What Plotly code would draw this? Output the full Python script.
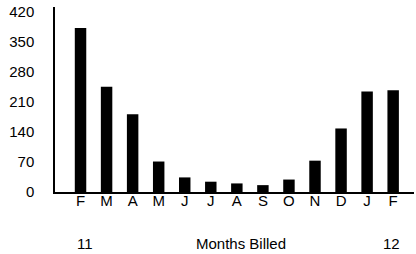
import plotly.graph_objects as go

months = ["F", "M", "A", "M", "J", "J", "A", "S", "O", "N", "D", "J", "F"]
kwh_billed = [382, 245, 181, 71, 34, 24, 20, 16, 29, 73, 148, 234, 237]
y_ticks = [0, 70, 140, 210, 280, 350, 420]
start_year_label = "11"
end_year_label = "12"
x_title = "Months Billed"

x_pos = list(range(len(months)))

FONT = "Liberation Sans, Arial, sans-serif"
FS = 15

fig = go.Figure(
    go.Bar(
        x=x_pos,
        y=kwh_billed,
        marker=dict(color="#000000", line=dict(width=0)),
        hoverinfo="skip",
    )
)

fig.update_layout(
    width=416,
    height=254,
    margin=dict(l=55, r=2, t=7, b=62),
    paper_bgcolor="white",
    plot_bgcolor="white",
    showlegend=False,
    bargap=0.56,
    font=dict(family=FONT, size=FS, color="#000000"),
)

fig.update_xaxes(
    range=[-0.98, len(months) - 0.2],
    tickvals=x_pos,
    ticktext=months,
    showgrid=False,
    zeroline=False,
    showline=True,
    linecolor="#000000",
    linewidth=2,
    ticks="",
    ticklabelstandoff=-6,
    tickfont=dict(family=FONT, size=FS, color="#000000"),
)

fig.update_yaxes(
    range=[0, 431],
    tickvals=y_ticks,
    ticktext=[str(v) for v in y_ticks],
    showgrid=False,
    zeroline=False,
    showline=True,
    linecolor="#000000",
    linewidth=1.5,
    ticks="",
    ticklabelstandoff=16,
    tickfont=dict(family=FONT, size=FS, color="#000000"),
)

fig.add_annotation(
    x=x_pos[0], y=0, xref="x", yref="paper", text=start_year_label,
    showarrow=False, yanchor="middle", xanchor="center", yshift=-51, xshift=4,
    font=dict(family=FONT, size=FS, color="#000000"),
)
fig.add_annotation(
    x=x_pos[-1], y=0, xref="x", yref="paper", text=end_year_label,
    showarrow=False, yanchor="middle", xanchor="center", yshift=-51, xshift=-2,
    font=dict(family=FONT, size=FS, color="#000000"),
)
fig.add_annotation(
    x=0.519, y=0, xref="paper", yref="paper", text=x_title,
    showarrow=False, yanchor="middle", xanchor="center", yshift=-51,
    font=dict(family=FONT, size=FS, color="#000000"),
)

fig.write_html(
    "out.html",
    config={"displayModeBar": False},
    post_script="document.body.style.margin='0';document.body.style.padding='0';",
)
